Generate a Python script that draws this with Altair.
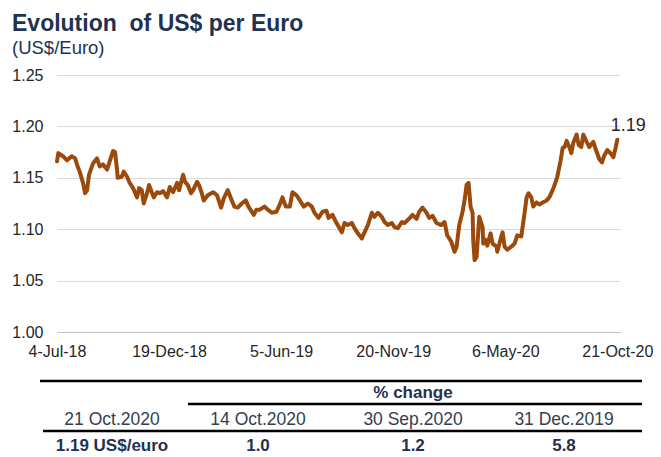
import altair as alt
import pandas as pd

# ---------------- data ----------------
dates = [
    "2018-07-04", "2018-07-06", "2018-07-13", "2018-07-19", "2018-07-26", "2018-07-31",
    "2018-08-04", "2018-08-07", "2018-08-12", "2018-08-15", "2018-08-18", "2018-08-21",
    "2018-08-27", "2018-09-02", "2018-09-06", "2018-09-11", "2018-09-17", "2018-09-21",
    "2018-09-26", "2018-09-29", "2018-10-02", "2018-10-03", "2018-10-09", "2018-10-12",
    "2018-10-17", "2018-10-21", "2018-10-26", "2018-11-01", "2018-11-04", "2018-11-08",
    "2018-11-11", "2018-11-16", "2018-11-19", "2018-11-23", "2018-11-26", "2018-12-01",
    "2018-12-05", "2018-12-10", "2018-12-16", "2018-12-20", "2018-12-25", "2018-12-31",
    "2019-01-03", "2019-01-09", "2019-01-12", "2019-01-16", "2019-01-21", "2019-01-24",
    "2019-01-30", "2019-02-02", "2019-02-06", "2019-02-09", "2019-02-15", "2019-02-23",
    "2019-03-01", "2019-03-07", "2019-03-11", "2019-03-17", "2019-03-23", "2019-03-27",
    "2019-04-01", "2019-04-07", "2019-04-13", "2019-04-17", "2019-04-25", "2019-04-29",
    "2019-05-04", "2019-05-11", "2019-05-16", "2019-05-22", "2019-05-29", "2019-06-03",
    "2019-06-07", "2019-06-12", "2019-06-18", "2019-06-22", "2019-06-28", "2019-07-03",
    "2019-07-09", "2019-07-15", "2019-07-21", "2019-07-25", "2019-07-31", "2019-08-06",
    "2019-08-12", "2019-08-15", "2019-08-21", "2019-08-27", "2019-09-04", "2019-09-08",
    "2019-09-13", "2019-09-19", "2019-09-23", "2019-09-28", "2019-10-04", "2019-10-08",
    "2019-10-13", "2019-10-19", "2019-10-23", "2019-10-28", "2019-11-03", "2019-11-07",
    "2019-11-12", "2019-11-18", "2019-11-22", "2019-11-27", "2019-12-03", "2019-12-07",
    "2019-12-15", "2019-12-19", "2019-12-25", "2019-12-29", "2020-01-03", "2020-01-09",
    "2020-01-13", "2020-01-18", "2020-01-24", "2020-01-31", "2020-02-05", "2020-02-09",
    "2020-02-15", "2020-02-20", "2020-02-23", "2020-02-27", "2020-03-03", "2020-03-06",
    "2020-03-09", "2020-03-12", "2020-03-15", "2020-03-18", "2020-03-19", "2020-03-21",
    "2020-03-24", "2020-03-28", "2020-04-02", "2020-04-03", "2020-04-06", "2020-04-09",
    "2020-04-14", "2020-04-17", "2020-04-23", "2020-04-24", "2020-04-30", "2020-05-02",
    "2020-05-05", "2020-05-09", "2020-05-15", "2020-05-20", "2020-05-24", "2020-05-30",
    "2020-06-04", "2020-06-07", "2020-06-10", "2020-06-14", "2020-06-17", "2020-06-22",
    "2020-06-26", "2020-07-01", "2020-07-07", "2020-07-11", "2020-07-16", "2020-07-20",
    "2020-07-23", "2020-07-28", "2020-07-31", "2020-08-03", "2020-08-06", "2020-08-10",
    "2020-08-13", "2020-08-16", "2020-08-21", "2020-08-24", "2020-08-28", "2020-08-31",
    "2020-09-05", "2020-09-09", "2020-09-15", "2020-09-19", "2020-09-24", "2020-09-28",
    "2020-10-01", "2020-10-06", "2020-10-12", "2020-10-15", "2020-10-18", "2020-10-21",
]
usd_per_euro = [
    1.166, 1.174, 1.171, 1.167, 1.171, 1.169,
    1.161, 1.156, 1.145, 1.135, 1.138, 1.153,
    1.164, 1.169, 1.161, 1.163, 1.158, 1.166,
    1.176, 1.175, 1.158, 1.150, 1.151, 1.156,
    1.151, 1.145, 1.140, 1.131, 1.140, 1.138,
    1.125, 1.135, 1.143, 1.136, 1.131, 1.136,
    1.135, 1.137, 1.131, 1.141, 1.136, 1.145,
    1.138, 1.153, 1.146, 1.143, 1.135, 1.138,
    1.146, 1.143, 1.135, 1.128, 1.133, 1.136,
    1.133, 1.121, 1.130, 1.138, 1.128, 1.122,
    1.121, 1.125, 1.128, 1.122, 1.114, 1.119,
    1.119, 1.122, 1.119, 1.116, 1.117, 1.124,
    1.131, 1.122, 1.122, 1.136, 1.133, 1.128,
    1.122, 1.125, 1.122, 1.116, 1.111, 1.117,
    1.118, 1.111, 1.114, 1.106, 1.097, 1.106,
    1.104, 1.106, 1.101, 1.096, 1.091, 1.097,
    1.104, 1.116, 1.112, 1.116, 1.112, 1.107,
    1.104, 1.106, 1.102, 1.101, 1.107, 1.106,
    1.111, 1.114, 1.110, 1.117, 1.121, 1.116,
    1.111, 1.113, 1.106, 1.104, 1.107, 1.094,
    1.088, 1.078, 1.083, 1.104, 1.117, 1.128,
    1.143, 1.145, 1.122, 1.116, 1.089, 1.070,
    1.073, 1.112, 1.102, 1.086, 1.090, 1.084,
    1.096, 1.086, 1.083, 1.078, 1.093, 1.097,
    1.083, 1.080, 1.083, 1.086, 1.094, 1.093,
    1.116, 1.131, 1.135, 1.131, 1.122, 1.126,
    1.124, 1.126, 1.128, 1.131, 1.138, 1.145,
    1.151, 1.167, 1.179, 1.180, 1.186, 1.180,
    1.174, 1.184, 1.192, 1.182, 1.180, 1.192,
    1.185, 1.180, 1.185, 1.177, 1.168, 1.165,
    1.171, 1.177, 1.173, 1.170, 1.178, 1.187,
]

x_tick_dates = [(2018, 7, 4), (2018, 12, 19), (2019, 6, 5),
                (2019, 11, 20), (2020, 5, 6), (2020, 10, 21)]
y_ticks = [1.00, 1.05, 1.10, 1.15, 1.20, 1.25]

title_text = "Evolution\u00a0 of US$ per Euro"
subtitle_text = "(US$/Euro)"

table_group_header = "% change"
table_dates = ["21 Oct.2020", "14 Oct.2020", "30 Sep.2020", "31 Dec.2019"]
table_values = ["1.19 US$/euro", "1.0", "1.2", "5.8"]

# ---------------- chart ----------------
FONT = "Liberation Sans"
LINE_COLOR = "#9c4a0b"
NAVY = "#1f3251"
TXT = "#262626"

df = pd.DataFrame({"date": dates, "value": usd_per_euro})
dummy = pd.DataFrame({"k": [0]})


def dt(y, m, d):
    return alt.DateTime(year=y, month=m, date=d, utc=True)


x_enc = alt.X(
    "date:T",
    scale=alt.Scale(type="utc", domain=[dt(2018, 7, 4), dt(2020, 10, 25)], nice=False),
    axis=alt.Axis(
        values=[dt(*d) for d in x_tick_dates],
        labelExpr="utcFormat(datum.value, '%-d-%b-%y')",
        grid=False,
        ticks=False,
        labelPadding=11,
        domainColor="#bfbfbf",
        domainWidth=1,
        labelFontSize=16,
        labelColor=TXT,
        labelFont=FONT,
        labelFlush=False,
        labelOverlap=False,
        title=None,
    ),
)
y_enc = alt.Y(
    "value:Q",
    scale=alt.Scale(domain=[1.0, 1.25], nice=False, zero=False),
    axis=alt.Axis(
        values=y_ticks,
        format=".2f",
        grid=True,
        gridColor="#d9d9d9",
        gridWidth=1,
        domain=False,
        ticks=False,
        labelPadding=14,
        labelFontSize=16,
        labelColor=TXT,
        labelFont=FONT,
        title=None,
    ),
)

line = alt.Chart(df).mark_line(
    color=LINE_COLOR, strokeWidth=4, strokeJoin="round", strokeCap="round"
).encode(x=x_enc, y=y_enc)

last_label = alt.Chart(df.tail(1)).mark_text(
    dx=11, dy=-14, fontSize=18, color=TXT, font=FONT, align="center", baseline="middle"
).encode(x=alt.X("date:T"), y=alt.Y("value:Q"), text=alt.Text("value:Q", format=".2f"))

# table below the chart (layout positions in px relative to the plot area)
col_x = [55, 201, 356, 507]
layers = [line, last_label]


def rule(x1, x2, y, w):
    return alt.Chart(dummy).mark_rule(color="#000000", strokeWidth=w).encode(
        x=alt.value(x1), x2=alt.value(x2), y=alt.value(y)
    )


layers.append(rule(-17, 585, 306, 2.5))
layers.append(rule(131, 585, 329, 2.5))
layers.append(rule(-14, 585, 356, 2.5))

layers.append(
    alt.Chart(dummy).mark_text(
        text=table_group_header, fontSize=17, fontWeight="bold", color=NAVY, font=FONT,
        align="center", baseline="middle"
    ).encode(x=alt.value(356), y=alt.value(318))
)
for i in range(len(table_dates)):
    layers.append(
        alt.Chart(dummy).mark_text(
            text=table_dates[i], fontSize=17.5, color="#333f50", font=FONT,
            align="center", baseline="middle"
        ).encode(x=alt.value(col_x[i]), y=alt.value(345))
    )
    layers.append(
        alt.Chart(dummy).mark_text(
            text=table_values[i], fontSize=17, fontWeight="bold", color=NAVY, font=FONT,
            align="center", baseline="middle"
        ).encode(x=alt.value(col_x[i]), y=alt.value(371))
    )

chart = alt.layer(*layers).properties(
    width=563,
    height=257,
    padding={"left": 49, "top": 67, "right": 33, "bottom": 125},
    autosize=alt.AutoSizeParams(type="none"),
    background="white",
    title=alt.Title(
        text=title_text,
        subtitle=subtitle_text,
        anchor="start",
        frame="group",
        dx=-45,
        offset=10,
        font=FONT,
        fontSize=23,
        fontWeight="bold",
        color=NAVY,
        subtitleFont=FONT,
        subtitleFontSize=18.5,
        subtitleColor=NAVY,
        subtitlePadding=3,
    ),
).configure_view(strokeWidth=0, stroke="transparent")

chart.save("out.html", embed_options={"renderer": "svg", "actions": False})
